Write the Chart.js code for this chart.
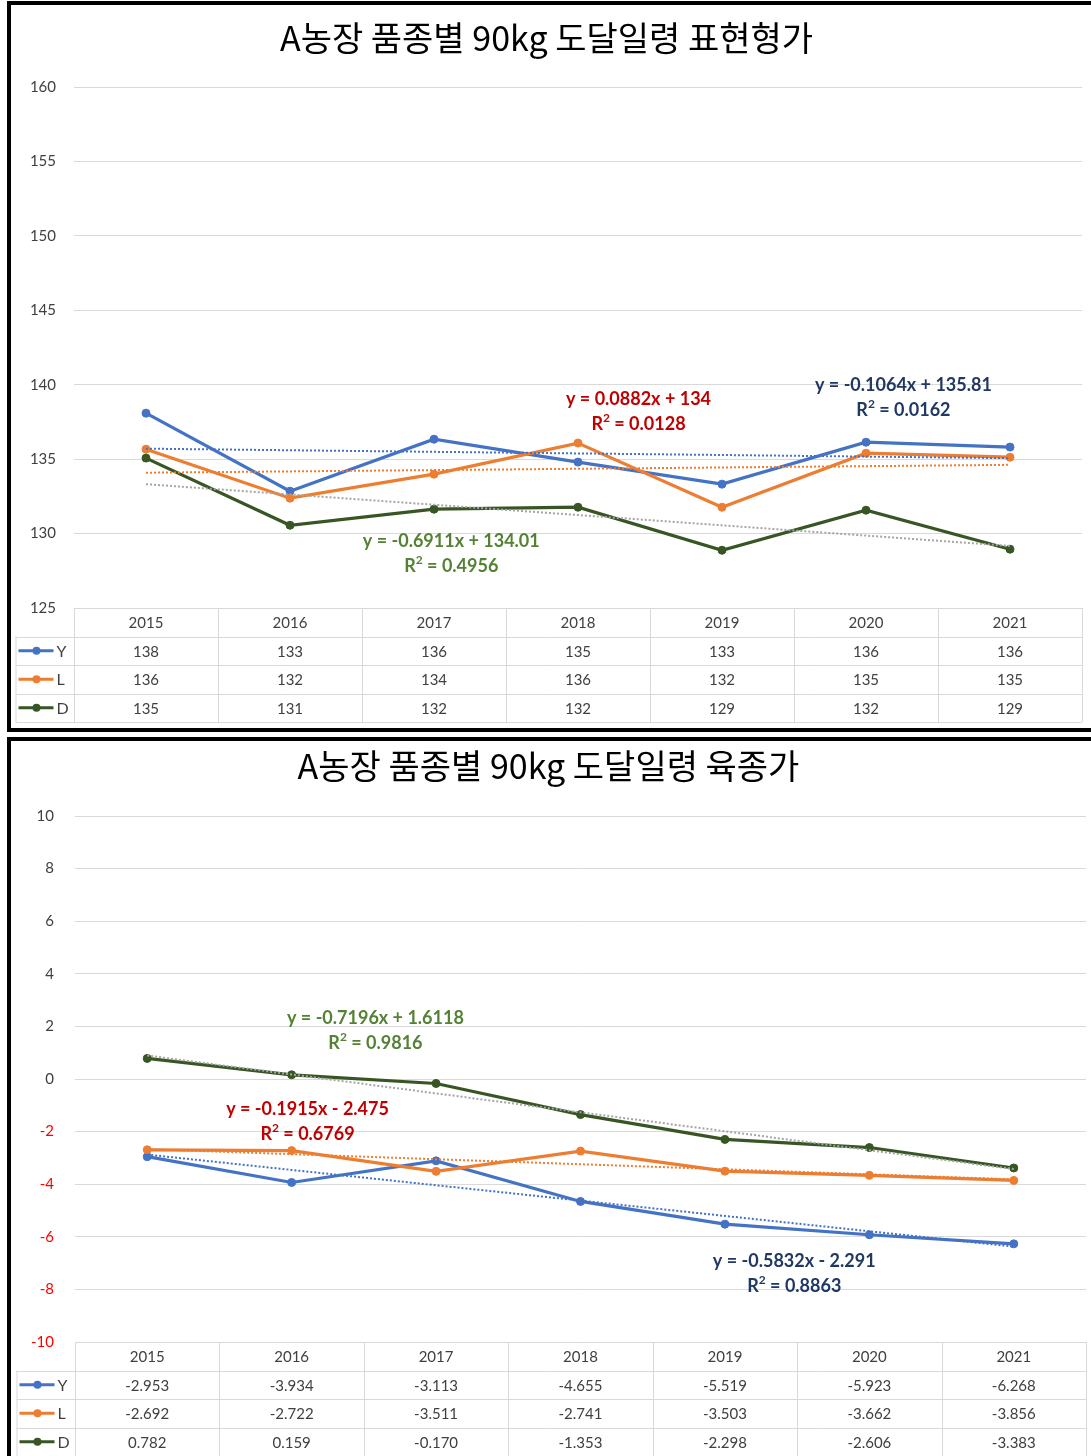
<!DOCTYPE html>
<html lang="ko">
<head>
<meta charset="utf-8">
<title>A농장 품종별 90kg 도달일령</title>
<script src="https://cdn.jsdelivr.net/npm/chart.js@4.4.1/dist/chart.umd.min.js"></script>
<style>
  html, body { margin: 0; padding: 0; background: #fff; width: 1091px; height: 1456px; overflow: hidden; }
  .panel { position: absolute; border: 4px solid #000; background: #fff; }
  #p1 { left: 7px; top: 1px; width: 1090px; height: 723px; }
  #p2 { left: 7px; top: 737px; width: 1090px; height: 730px; }
  canvas { position: absolute; left: 0; top: 0; }
</style>
</head>
<body>
<div class="panel" id="p1"><canvas id="c1" width="1080" height="723"></canvas></div>
<div class="panel" id="p2"><canvas id="c2" width="1080" height="715"></canvas></div>
<script>
// ---- data ----
const years = ['2015', '2016', '2017', '2018', '2019', '2020', '2021'];
const seriesNames = ['Y', 'L', 'D'];

// 표현형가 (phenotypic value, days to 90kg)
const phenoY = [138.09, 132.85, 136.34, 134.80, 133.32, 136.14, 135.81];
const phenoL = [135.67, 132.38, 133.99, 136.08, 131.77, 135.40, 135.13];
const phenoD = [135.07, 130.56, 131.64, 131.77, 128.88, 131.57, 128.95];

// 육종가 (breeding value, days to 90kg)
const breedY = [-2.953, -3.934, -3.113, -4.655, -5.519, -5.923, -6.268];
const breedL = [-2.692, -2.722, -3.511, -2.741, -3.503, -3.662, -3.856];
const breedD = [0.782, 0.159, -0.170, -1.353, -2.298, -2.606, -3.383];

// linear trend lines (x = 1..7), order Y, L, D
const phenoSlope = [-0.1064, 0.0882, -0.6911];
const phenoIntercept = [135.81, 134, 134.01];
const phenoR2 = [0.0162, 0.0128, 0.4956];
const breedSlope = [-0.5832, -0.1915, -0.7196];
const breedIntercept = [-2.291, -2.475, 1.6118];
const breedR2 = [0.8863, 0.6769, 0.9816];

// ---- styles ----
const lineColors = ['#4472C4', '#ED7D31', '#375623'];
const trendColors = ['#4472C4', '#ED7D31', '#A5A5A5'];
const eqColors = ['#203864', '#C00000', '#548235'];
const textColor = '#404040';
const gridColor = '#D9D9D9';
const numFont = 'Lato, "Open Sans", "Liberation Sans", sans-serif';

// where each equation label sits, in (category index, value) terms
const phenoEqAnchor = [{ i: 5.26, v: 139.97 }, { i: 3.42, v: 139.03 }, { i: 2.12, v: 129.49 }];
const breedEqAnchor = [{ i: 4.48, v: -6.92 }, { i: 1.11, v: -1.14 }, { i: 1.58, v: 2.32 }];

function trendValues(slope, intercept) {
  return years.map((_, k) => slope * (k + 1) + intercept);
}
function signed(n) {
  return (n < 0 ? '- ' : '+ ') + String(Math.abs(n));
}

function buildDatasets(series, slopes, intercepts) {
  const sets = [];
  series.forEach((vals, s) => {
    sets.push({
      label: seriesNames[s],
      data: vals,
      borderColor: lineColors[s],
      backgroundColor: lineColors[s],
      pointBackgroundColor: lineColors[s],
      pointBorderColor: lineColors[s],
      borderWidth: 3.2,
      pointRadius: 4,
      pointBorderWidth: 1,
      tension: 0,
      order: 3 - s
    });
  });
  series.forEach((_, s) => {
    sets.push({
      label: seriesNames[s] + ' trend',
      data: trendValues(slopes[s], intercepts[s]),
      borderColor: trendColors[s],
      borderWidth: 2,
      borderDash: [2, 2],
      pointRadius: 0,
      tension: 0,
      order: 0
    });
  });
  return sets;
}

// data table under the plot: year header + one row per series with legend key
const dataTablePlugin = {
  id: 'dataTable',
  afterDraw(chart, args, opts) {
    const { ctx, chartArea, scales } = chart;
    const x = scales.x;
    const step = x.getPixelForValue(1) - x.getPixelForValue(0);
    const left = Math.round(x.getPixelForValue(0) - step / 2);
    const right = Math.round(x.getPixelForValue(years.length - 1) + step / 2);
    const top = chartArea.bottom;
    const rh = opts.rowHeight;
    const keyLeft = opts.keyLeft;
    const bottom = top + rh * 4;
    ctx.save();
    ctx.strokeStyle = gridColor;
    ctx.lineWidth = 1;
    ctx.beginPath();
    ctx.moveTo(left, Math.round(top) + 0.5);
    ctx.lineTo(right, Math.round(top) + 0.5);
    for (let r = 1; r <= 4; r++) {
      const y = Math.round(top + rh * r) + 0.5;
      ctx.moveTo(keyLeft, y);
      ctx.lineTo(right, y);
    }
    ctx.moveTo(keyLeft + 0.5, top + rh);
    ctx.lineTo(keyLeft + 0.5, bottom);
    for (let k = 0; k <= years.length; k++) {
      const xx = Math.round(x.getPixelForValue(0) - step / 2 + step * k) + 0.5;
      ctx.moveTo(xx, top);
      ctx.lineTo(xx, bottom);
    }
    ctx.stroke();

    ctx.font = '15px ' + numFont;
    ctx.fillStyle = textColor;
    ctx.textAlign = 'center';
    ctx.textBaseline = 'middle';
    years.forEach((yr, k) => {
      ctx.fillText(yr, x.getPixelForValue(k), top + rh / 2 + 1);
    });
    const rows = opts.rows;
    rows.forEach((vals, s) => {
      const cy = top + rh * (s + 1.5) + 1;
      ctx.fillStyle = textColor;
      ctx.textAlign = 'center';
      vals.forEach((v, k) => {
        ctx.fillText(opts.format(v), x.getPixelForValue(k), cy);
      });
      // legend key
      ctx.strokeStyle = lineColors[s];
      ctx.lineWidth = 3;
      ctx.beginPath();
      ctx.moveTo(keyLeft + 3, cy - 1);
      ctx.lineTo(keyLeft + 38, cy - 1);
      ctx.stroke();
      ctx.fillStyle = lineColors[s];
      ctx.beginPath();
      ctx.arc(keyLeft + 21, cy - 1, 4, 0, Math.PI * 2);
      ctx.fill();
      ctx.fillStyle = textColor;
      ctx.textAlign = 'left';
      ctx.font = '16px ' + numFont;
      ctx.fillText(seriesNames[s], keyLeft + 41, cy);
      ctx.font = '15px ' + numFont;
    });
    ctx.restore();
  }
};

// trend-line equation and R² labels
const trendLabelPlugin = {
  id: 'trendLabels',
  afterDatasetsDraw(chart, args, opts) {
    const { ctx, scales } = chart;
    const mainFont = 'bold 18px ' + numFont;
    const supFont = 'bold 12px ' + numFont;
    ctx.save();
    ctx.textBaseline = 'middle';
    opts.anchors.forEach((a, s) => {
      const px = scales.x.getPixelForValue(a.i);
      const py = scales.y.getPixelForValue(a.v);
      ctx.fillStyle = eqColors[s];
      ctx.font = mainFont;
      ctx.textAlign = 'center';
      ctx.fillText('y = ' + opts.slopes[s] + 'x ' + signed(opts.intercepts[s]), px, py);
      // R² line with a raised 2
      const rest = ' = ' + opts.r2[s];
      const wR = ctx.measureText('R').width;
      const wRest = ctx.measureText(rest).width;
      ctx.font = supFont;
      const w2 = ctx.measureText('2').width;
      const total = wR + w2 + wRest;
      let cx = px - total / 2;
      const ly = py + 25;
      ctx.textAlign = 'left';
      ctx.font = mainFont;
      ctx.fillText('R', cx, ly);
      cx += wR;
      ctx.font = supFont;
      ctx.fillText('2', cx, ly - 6);
      cx += w2;
      ctx.font = mainFont;
      ctx.fillText(rest, cx, ly);
    });
    ctx.restore();
  }
};

function makeChart(canvasId, cfg) {
  return new Chart(document.getElementById(canvasId), {
    type: 'line',
    data: { labels: years, datasets: buildDatasets(cfg.series, cfg.slopes, cfg.intercepts) },
    options: {
      responsive: false,
      animation: false,
      events: [],
      layout: { padding: { left: 0, right: cfg.padRight, top: 0, bottom: cfg.padBottom } },
      scales: {
        x: { type: 'category', offset: true, display: false },
        y: {
          min: cfg.min, max: cfg.max,
          afterFit: (scale) => { scale.width = cfg.axisWidth; },
          border: { display: false },
          grid: { color: gridColor, lineWidth: 1, drawTicks: false },
          ticks: {
            stepSize: cfg.step,
            padding: cfg.tickPad,
            font: { family: numFont, size: 15 },
            color: cfg.tickColor
          }
        }
      },
      plugins: {
        legend: { display: false },
        tooltip: { enabled: false },
        title: {
          display: true,
          text: cfg.title,
          color: '#000',
          font: { family: '"Noto Sans CJK KR", sans-serif', size: 34, weight: 'normal', lineHeight: 1.2 },
          padding: cfg.titlePad
        },
        dataTable: { rows: cfg.series, rowHeight: 28.5, keyLeft: cfg.keyLeft, format: cfg.format },
        trendLabels: { anchors: cfg.anchors, slopes: cfg.slopes, intercepts: cfg.intercepts, r2: cfg.r2 }
      }
    },
    plugins: [dataTablePlugin, trendLabelPlugin]
  });
}

makeChart('c1', {
  title: 'A농장 품종별 90kg 도달일령 표현형가',
  series: [phenoY, phenoL, phenoD],
  slopes: phenoSlope, intercepts: phenoIntercept, r2: phenoR2,
  anchors: phenoEqAnchor,
  min: 125, max: 160, step: 5,
  axisWidth: 63, tickPad: 18, padRight: 9, padBottom: 120,
  titlePad: { top: 12.6, bottom: 28.6 },
  keyLeft: 4.5,
  tickColor: textColor,
  format: (v) => v.toFixed(0)
});

makeChart('c2', {
  title: 'A농장 품종별 90kg 도달일령 육종가',
  series: [breedY, breedL, breedD],
  slopes: breedSlope, intercepts: breedIntercept, r2: breedR2,
  anchors: breedEqAnchor,
  min: -10, max: 10, step: 2,
  axisWidth: 64, tickPad: 21, padRight: 5, padBottom: 114,
  titlePad: { top: 4.6, bottom: 29.6 },
  keyLeft: 5.5,
  tickColor: (c) => (c.tick && c.tick.value < 0 ? '#FF0000' : textColor),
  format: (v) => v.toFixed(3)
});
</script>
</body>
</html>
